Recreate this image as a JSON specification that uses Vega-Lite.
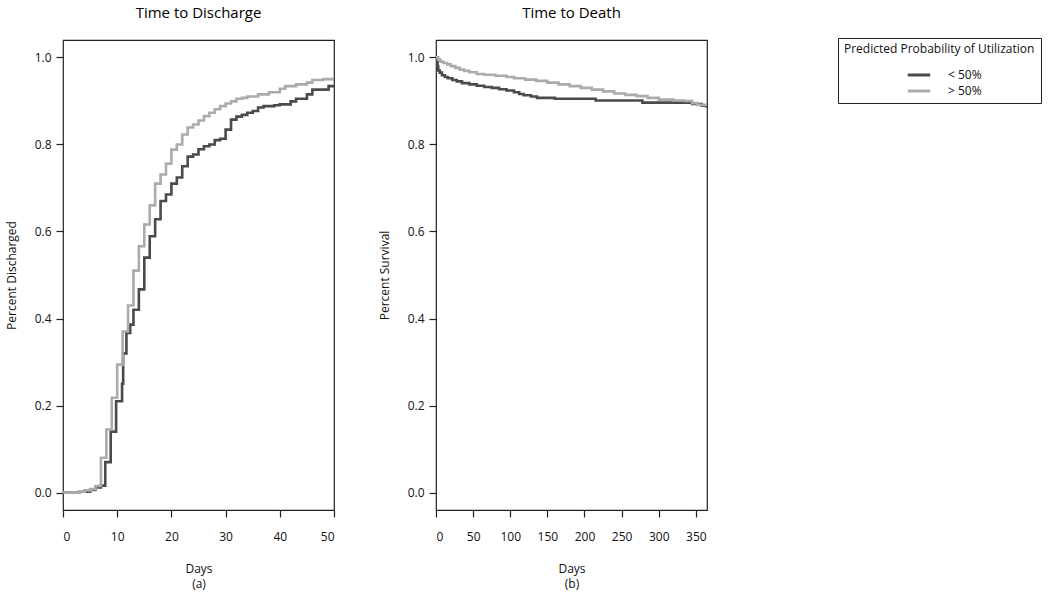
{
  "$schema": "https://vega.github.io/schema/vega-lite/v6.json",
  "background": "white",
  "padding": {"left": 4, "top": 5, "right": 5, "bottom": 2},
  "bounds": "flush",
  "spacing": 102,
  "datasets": {
    "discharge": [
      {"day": 0, "p": 0, "g": "< 50%"}, {"day": 3, "p": 0.002, "g": "< 50%"}, {"day": 5, "p": 0.006, "g": "< 50%"}, {"day": 6, "p": 0.012, "g": "< 50%"}, {"day": 7, "p": 0.016, "g": "< 50%"},
      {"day": 7.8, "p": 0.07, "g": "< 50%"}, {"day": 8.8, "p": 0.14, "g": "< 50%"}, {"day": 9.8, "p": 0.21, "g": "< 50%"}, {"day": 10.9, "p": 0.25, "g": "< 50%"}, {"day": 11.1, "p": 0.32, "g": "< 50%"},
      {"day": 11.7, "p": 0.367, "g": "< 50%"}, {"day": 12.4, "p": 0.386, "g": "< 50%"}, {"day": 13, "p": 0.42, "g": "< 50%"}, {"day": 14, "p": 0.467, "g": "< 50%"}, {"day": 15, "p": 0.54, "g": "< 50%"},
      {"day": 16, "p": 0.589, "g": "< 50%"}, {"day": 17, "p": 0.628, "g": "< 50%"}, {"day": 18, "p": 0.67, "g": "< 50%"}, {"day": 19, "p": 0.685, "g": "< 50%"}, {"day": 20, "p": 0.71, "g": "< 50%"},
      {"day": 21, "p": 0.724, "g": "< 50%"}, {"day": 22, "p": 0.75, "g": "< 50%"}, {"day": 23, "p": 0.772, "g": "< 50%"}, {"day": 24, "p": 0.777, "g": "< 50%"}, {"day": 25, "p": 0.789, "g": "< 50%"},
      {"day": 26, "p": 0.796, "g": "< 50%"}, {"day": 27, "p": 0.8, "g": "< 50%"}, {"day": 28, "p": 0.81, "g": "< 50%"}, {"day": 29, "p": 0.813, "g": "< 50%"}, {"day": 30, "p": 0.834, "g": "< 50%"},
      {"day": 31, "p": 0.857, "g": "< 50%"}, {"day": 32, "p": 0.864, "g": "< 50%"}, {"day": 33, "p": 0.868, "g": "< 50%"}, {"day": 34, "p": 0.873, "g": "< 50%"}, {"day": 35, "p": 0.877, "g": "< 50%"},
      {"day": 36, "p": 0.885, "g": "< 50%"}, {"day": 37, "p": 0.888, "g": "< 50%"}, {"day": 39, "p": 0.89, "g": "< 50%"}, {"day": 40, "p": 0.892, "g": "< 50%"}, {"day": 42, "p": 0.899, "g": "< 50%"},
      {"day": 43, "p": 0.905, "g": "< 50%"}, {"day": 45, "p": 0.915, "g": "< 50%"}, {"day": 46, "p": 0.926, "g": "< 50%"}, {"day": 49, "p": 0.934, "g": "< 50%"}, {"day": 50, "p": 0.934, "g": "< 50%"},
      {"day": 0, "p": 0, "g": "> 50%"}, {"day": 3, "p": 0.002, "g": "> 50%"}, {"day": 4, "p": 0.005, "g": "> 50%"}, {"day": 5, "p": 0.008, "g": "> 50%"}, {"day": 6, "p": 0.015, "g": "> 50%"},
      {"day": 7, "p": 0.08, "g": "> 50%"}, {"day": 8, "p": 0.145, "g": "> 50%"}, {"day": 9, "p": 0.218, "g": "> 50%"}, {"day": 10, "p": 0.294, "g": "> 50%"}, {"day": 11, "p": 0.37, "g": "> 50%"},
      {"day": 12, "p": 0.43, "g": "> 50%"}, {"day": 13, "p": 0.51, "g": "> 50%"}, {"day": 14, "p": 0.566, "g": "> 50%"}, {"day": 15, "p": 0.616, "g": "> 50%"}, {"day": 16, "p": 0.66, "g": "> 50%"},
      {"day": 17, "p": 0.71, "g": "> 50%"}, {"day": 18, "p": 0.731, "g": "> 50%"}, {"day": 19, "p": 0.756, "g": "> 50%"}, {"day": 20, "p": 0.788, "g": "> 50%"}, {"day": 21, "p": 0.8, "g": "> 50%"},
      {"day": 22, "p": 0.823, "g": "> 50%"}, {"day": 23, "p": 0.839, "g": "> 50%"}, {"day": 24, "p": 0.846, "g": "> 50%"}, {"day": 25, "p": 0.855, "g": "> 50%"}, {"day": 26, "p": 0.865, "g": "> 50%"},
      {"day": 27, "p": 0.873, "g": "> 50%"}, {"day": 28, "p": 0.881, "g": "> 50%"}, {"day": 29, "p": 0.888, "g": "> 50%"}, {"day": 30, "p": 0.894, "g": "> 50%"}, {"day": 31, "p": 0.899, "g": "> 50%"},
      {"day": 32, "p": 0.905, "g": "> 50%"}, {"day": 33, "p": 0.907, "g": "> 50%"}, {"day": 34, "p": 0.91, "g": "> 50%"}, {"day": 36, "p": 0.915, "g": "> 50%"}, {"day": 38, "p": 0.92, "g": "> 50%"},
      {"day": 40, "p": 0.928, "g": "> 50%"}, {"day": 41, "p": 0.934, "g": "> 50%"}, {"day": 43, "p": 0.938, "g": "> 50%"}, {"day": 45, "p": 0.942, "g": "> 50%"}, {"day": 46, "p": 0.948, "g": "> 50%"},
      {"day": 48, "p": 0.95, "g": "> 50%"}, {"day": 50, "p": 0.95, "g": "> 50%"}
    ],
    "death": [
      {"day": 0, "p": 1.0, "g": "< 50%"}, {"day": 1, "p": 0.99, "g": "< 50%"}, {"day": 2, "p": 0.98, "g": "< 50%"}, {"day": 3, "p": 0.97, "g": "< 50%"}, {"day": 5, "p": 0.965, "g": "< 50%"},
      {"day": 8, "p": 0.959, "g": "< 50%"}, {"day": 12, "p": 0.955, "g": "< 50%"}, {"day": 16, "p": 0.952, "g": "< 50%"}, {"day": 22, "p": 0.948, "g": "< 50%"}, {"day": 28, "p": 0.945, "g": "< 50%"},
      {"day": 35, "p": 0.941, "g": "< 50%"}, {"day": 45, "p": 0.938, "g": "< 50%"}, {"day": 55, "p": 0.935, "g": "< 50%"}, {"day": 65, "p": 0.932, "g": "< 50%"}, {"day": 75, "p": 0.93, "g": "< 50%"},
      {"day": 85, "p": 0.927, "g": "< 50%"}, {"day": 95, "p": 0.924, "g": "< 50%"}, {"day": 105, "p": 0.92, "g": "< 50%"}, {"day": 112, "p": 0.916, "g": "< 50%"}, {"day": 118, "p": 0.913, "g": "< 50%"},
      {"day": 128, "p": 0.91, "g": "< 50%"}, {"day": 136, "p": 0.907, "g": "< 50%"}, {"day": 160, "p": 0.905, "g": "< 50%"}, {"day": 215, "p": 0.901, "g": "< 50%"}, {"day": 278, "p": 0.896, "g": "< 50%"},
      {"day": 345, "p": 0.893, "g": "< 50%"}, {"day": 358, "p": 0.889, "g": "< 50%"}, {"day": 365, "p": 0.884, "g": "< 50%"},
      {"day": 0, "p": 1.0, "g": "> 50%"}, {"day": 3, "p": 0.995, "g": "> 50%"}, {"day": 6, "p": 0.99, "g": "> 50%"}, {"day": 10, "p": 0.987, "g": "> 50%"}, {"day": 15, "p": 0.984, "g": "> 50%"},
      {"day": 20, "p": 0.98, "g": "> 50%"}, {"day": 26, "p": 0.976, "g": "> 50%"}, {"day": 32, "p": 0.972, "g": "> 50%"}, {"day": 38, "p": 0.969, "g": "> 50%"}, {"day": 45, "p": 0.966, "g": "> 50%"},
      {"day": 55, "p": 0.962, "g": "> 50%"}, {"day": 65, "p": 0.96, "g": "> 50%"}, {"day": 80, "p": 0.958, "g": "> 50%"}, {"day": 95, "p": 0.955, "g": "> 50%"}, {"day": 105, "p": 0.952, "g": "> 50%"},
      {"day": 120, "p": 0.949, "g": "> 50%"}, {"day": 135, "p": 0.946, "g": "> 50%"}, {"day": 150, "p": 0.942, "g": "> 50%"}, {"day": 165, "p": 0.938, "g": "> 50%"}, {"day": 180, "p": 0.934, "g": "> 50%"},
      {"day": 195, "p": 0.93, "g": "> 50%"}, {"day": 210, "p": 0.926, "g": "> 50%"}, {"day": 225, "p": 0.922, "g": "> 50%"}, {"day": 240, "p": 0.917, "g": "> 50%"}, {"day": 255, "p": 0.914, "g": "> 50%"},
      {"day": 270, "p": 0.911, "g": "> 50%"}, {"day": 285, "p": 0.907, "g": "> 50%"}, {"day": 300, "p": 0.903, "g": "> 50%"}, {"day": 320, "p": 0.901, "g": "> 50%"}, {"day": 335, "p": 0.9, "g": "> 50%"},
      {"day": 345, "p": 0.895, "g": "> 50%"}, {"day": 352, "p": 0.891, "g": "> 50%"}, {"day": 365, "p": 0.888, "g": "> 50%"}
    ]
  },
  "hconcat": [
    {
      "width": 271,
      "height": 470,
      "data": {"name": "discharge"},
      "title": {"text": "Time to Discharge", "fontSize": 15, "fontWeight": "normal", "font": "Open Sans", "offset": 19},
      "mark": {"type": "line", "interpolate": "step-after", "strokeWidth": 2.6, "clip": true},
      "encoding": {
        "x": {"field": "day", "type": "quantitative", "scale": {"domain": [0, 50], "nice": false, "zero": false},
              "axis": {"values": [0, 10, 20, 30, 40, 50], "title": ["Days", "(a)"]}},
        "y": {"field": "p", "type": "quantitative", "scale": {"domain": [-0.04, 1.04], "nice": false, "zero": false},
              "axis": {"values": [0, 0.2, 0.4, 0.6, 0.8, 1.0], "format": ".1f", "title": "Percent Discharged"}},
        "color": {"field": "g", "type": "nominal", "scale": {"domain": ["< 50%", "> 50%"], "range": ["#4a4a4a", "#ababab"]},
                  "legend": {"title": "Predicted Probability of Utilization"}}
      }
    },
    {
      "width": 271,
      "height": 470,
      "data": {"name": "death"},
      "title": {"text": "Time to Death", "fontSize": 15, "fontWeight": "normal", "font": "Open Sans", "offset": 19},
      "mark": {"type": "line", "interpolate": "step-after", "strokeWidth": 2.6, "clip": true},
      "encoding": {
        "x": {"field": "day", "type": "quantitative", "scale": {"domain": [0, 365], "nice": false, "zero": false},
              "axis": {"values": [0, 50, 100, 150, 200, 250, 300, 350], "title": ["Days", "(b)"]}},
        "y": {"field": "p", "type": "quantitative", "scale": {"domain": [-0.04, 1.04], "nice": false, "zero": false},
              "axis": {"values": [0, 0.2, 0.4, 0.6, 0.8, 1.0], "format": ".1f", "title": "Percent Survival"}},
        "color": {"field": "g", "type": "nominal", "scale": {"domain": ["< 50%", "> 50%"], "range": ["#4a4a4a", "#ababab"]},
                  "legend": {"title": "Predicted Probability of Utilization"}}
      }
    }
  ],
  "config": {
    "font": "Open Sans",
    "view": {"stroke": "#222222", "strokeWidth": 1.2},
    "axis": {
      "domain": false, "grid": false, "ticks": true, "tickColor": "#222222", "tickSize": 7, "tickWidth": 1.2,
      "labelFont": "Open Sans", "labelFontSize": 12, "labelColor": "#111111",
      "titleFont": "Open Sans", "titleFontSize": 12, "titleFontWeight": "normal", "titleColor": "#111111"
    },
    "axisX": {"labelPadding": 14, "titlePadding": 21, "titleLineHeight": 15},
    "axisY": {"labelAngle": 0, "labelPadding": 5, "titlePadding": 16},
    "legend": {
      "orient": "none", "legendX": 775, "legendY": -2,
      "strokeColor": "#222222", "fillColor": "white", "padding": 6, "cornerRadius": 0,
      "titleFont": "Open Sans", "titleFontSize": 12, "titleFontWeight": "normal", "titleColor": "#111111", "titlePadding": 10, "titleLimit": 400,
      "labelFont": "Open Sans", "labelFontSize": 12, "labelColor": "#111111", "labelOffset": 20,
      "symbolType": "M-1.5,0H1.5", "symbolStrokeWidth": 3, "symbolSize": 225, "symbolOffset": 66, "rowPadding": 1
    }
  }
}
